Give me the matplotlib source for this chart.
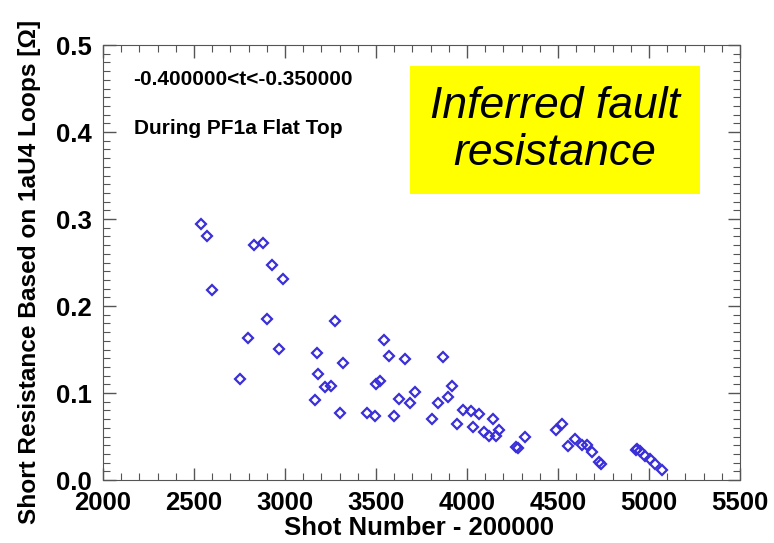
import numpy as np
import matplotlib
matplotlib.use("Agg")
import matplotlib.pyplot as plt
from matplotlib.ticker import MultipleLocator

plt.rcParams["font.family"] = ["Liberation Sans", "DejaVu Sans"]

# shot number - 200000 vs inferred short resistance (ohm)
shots = [2538, 2570, 2601, 2831, 2879, 2930, 2989, 2903, 2797, 2970, 2751,
         3273, 3542, 3174, 3569, 3661, 3866, 3317, 3183, 3218, 3254, 3502,
         3522, 3919, 3716, 3628, 3687, 3894, 3841, 3166, 3305, 3452, 3496,
         3597, 3810, 3947,
         3980, 4022, 4064, 4141, 4036, 4091, 4122, 4159, 4177, 4318, 4269,
         4282, 4492, 4525, 4558, 4595, 4630, 4662, 4687, 4727, 4736,
         4928, 4936, 4951, 4978, 5006, 5033, 5070]
resist = [0.294, 0.280, 0.218, 0.270, 0.272, 0.247, 0.231, 0.185, 0.163, 0.151, 0.116,
          0.183, 0.161, 0.146, 0.142, 0.139, 0.141, 0.134, 0.122, 0.107, 0.108, 0.110,
          0.114, 0.108, 0.101, 0.093, 0.089, 0.096, 0.089, 0.092, 0.077, 0.077, 0.074,
          0.074, 0.070, 0.064,
          0.081, 0.079, 0.076, 0.070, 0.061, 0.055, 0.051, 0.051, 0.057, 0.049, 0.038,
          0.037, 0.057, 0.064, 0.039, 0.047, 0.040, 0.040, 0.032, 0.021, 0.018,
          0.034, 0.036, 0.033, 0.028, 0.024, 0.018, 0.012]

fig = plt.figure(figsize=(7.74, 5.43), dpi=100)
ax = fig.add_axes([0.133, 0.116, 0.823, 0.801])

ax.plot(shots, resist, linestyle="none", marker="D", markersize=5.5,
        markerfacecolor="none", markeredgecolor="#3a2fd8", markeredgewidth=1.6)

ax.set_xlim(2000, 5500)
ax.set_ylim(0.0, 0.5)
ax.xaxis.set_major_locator(MultipleLocator(500))
ax.xaxis.set_minor_locator(MultipleLocator(100))
ax.yaxis.set_major_locator(MultipleLocator(0.1))
ax.yaxis.set_minor_locator(MultipleLocator(0.01))
ax.yaxis.set_major_formatter(matplotlib.ticker.FormatStrFormatter("%.1f"))
ax.tick_params(which="both", direction="in", top=True, right=True, color="#555555")
ax.tick_params(which="major", length=9, width=1, labelsize=18.5, pad=8)
ax.tick_params(which="minor", length=5, width=0.8)
for lab in ax.get_xticklabels() + ax.get_yticklabels():
    lab.set_fontweight("bold")
for sp in ax.spines.values():
    sp.set_color("#555555")

ax.set_xlabel("Shot Number - 200000", fontsize=18.5, fontweight="bold")
ax.set_ylabel("Short Resistance Based on 1aU4 Loops [\u03a9]", fontsize=17.6,
              fontweight="bold")
ax.xaxis.set_label_coords(0.496, -0.083)
ax.yaxis.set_label_coords(-0.097, 0.478)

ax.text(0.048, 0.920, "-0.400000<t<-0.350000", transform=ax.transAxes,
        fontsize=15, fontweight="bold", va="center")
ax.text(0.048, 0.809, "During PF1a Flat Top", transform=ax.transAxes,
        fontsize=15, fontweight="bold", va="center")

ax.text(0.7096, 0.805, "Inferred fault\nresistance", transform=ax.transAxes,
        fontsize=32, style="italic", ha="center", va="center", linespacing=1.2,
        bbox=dict(boxstyle="square,pad=0.44", facecolor="#ffff00", edgecolor="none"))

fig.savefig("out.png", dpi=100)
